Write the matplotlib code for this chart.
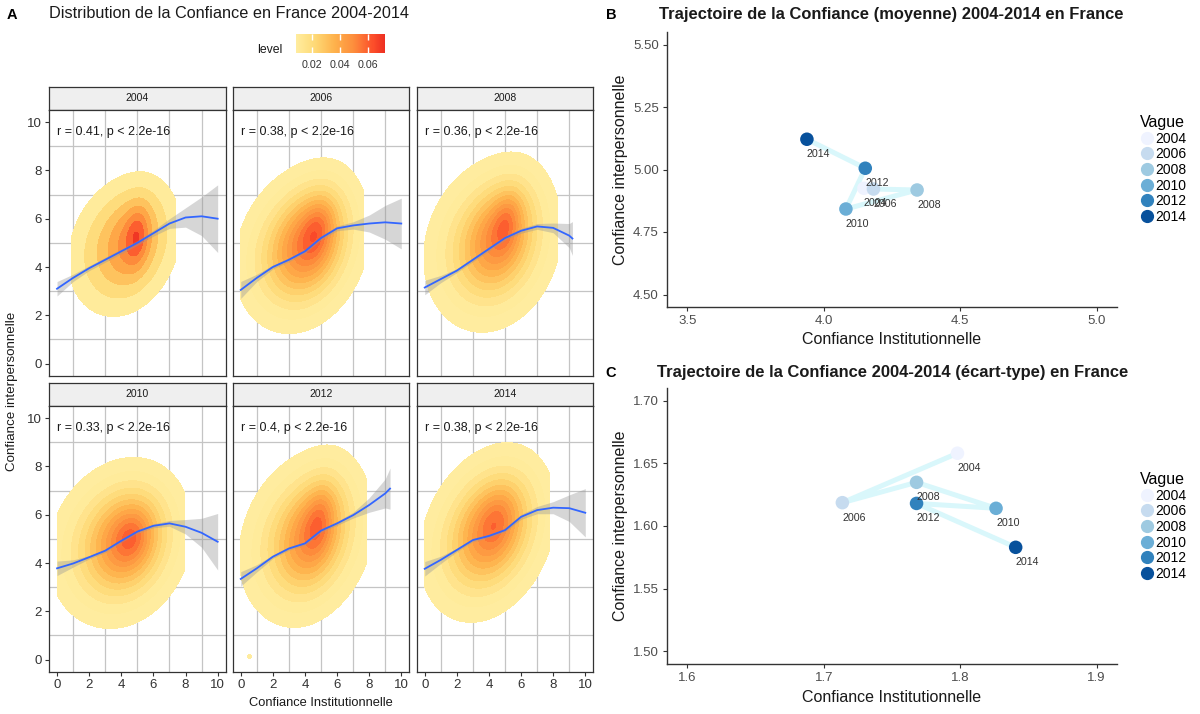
import numpy as np
import matplotlib.pyplot as plt
from matplotlib.colors import LinearSegmentedColormap, Normalize
from matplotlib.cm import ScalarMappable
from matplotlib.lines import Line2D

plt.rcParams['font.family'] = ['Liberation Sans', 'DejaVu Sans']

W, H = 1200, 714

vagues = [2004, 2006, 2008, 2010, 2012, 2014]
vague_colors = ['#EFF3FF', '#C6DBEF', '#9ECAE1', '#6BAED6', '#3182BD', '#08519C']

# --- panel A: correlation text per wave
r_values = ['0.41', '0.38', '0.36', '0.33', '0.4', '0.38']

# density shape per wave:
# (mean_x, mean_y, sd_x, sd_y, rho, weight)
dens_broad = [
    (4.2, 4.9, 2.1, 1.75, 0.22, 0.90),
    (3.8, 4.75, 2.05, 1.7, 0.20, 0.86),
    (4.2, 4.9, 2.15, 1.8, 0.15, 0.86),
    (3.9, 4.8, 2.25, 1.75, 0.15, 0.86),
    (4.1, 5.0, 2.1, 1.8, 0.20, 0.86),
    (3.9, 5.2, 2.1, 1.8, 0.25, 0.86),
]
dens_mid = [
    (4.8, 5.2, 1.0, 1.2, 0.25, 0.12),
    (4.6, 5.4, 1.3, 1.4, 0.30, 0.22),
    (4.9, 5.6, 1.3, 1.4, 0.30, 0.22),
    (4.5, 5.0, 1.4, 1.3, 0.20, 0.22),
    (4.7, 5.5, 1.2, 1.5, 0.35, 0.20),
    (4.4, 5.6, 1.4, 1.4, 0.30, 0.20),
]
dens_core = [
    (5.0, 5.3, 0.45, 0.8, 0.2, 0.04),
    (4.8, 5.6, 0.6, 0.8, 0.3, 0.03),
    (5.1, 5.9, 0.55, 0.8, 0.3, 0.03),
    (4.7, 5.1, 0.7, 0.7, 0.2, 0.03),
    (4.9, 5.8, 0.55, 0.9, 0.3, 0.03),
    (4.5, 5.8, 0.7, 0.8, 0.3, 0.025),
]
dens_extra = [
    (0, 0, 1, 1, 0, 0.0),
    (0, 0, 1, 1, 0, 0.0),
    (0, 0, 1, 1, 0, 0.0),
    (0, 0, 1, 1, 0, 0.0),
    (0.55, 0.12, 0.15, 0.1, 0, 0.0006),
    (0, 0, 1, 1, 0, 0.0),
]
# data extent of each wave (xmin, xmax, ymin, ymax)
dens_box = [
    (0.9, 7.4, 1.0, 7.95),
    (0.0, 7.65, 0.0, 10.0),
    (0.0, 8.3, 0.0, 10.0),
    (0.0, 7.95, 0.0, 10.0),
    (0.0, 7.85, 0.0, 10.0),
    (0.0, 7.8, 0.0, 10.0),
]
dens_step = [0.01, 0.005, 0.005, 0.005, 0.005, 0.005]

# loess curves and their confidence half-widths
smooth_x = [
    [0, 1, 2, 3, 4, 5, 6, 7, 8, 9, 10],
    [0, 1, 2, 3, 4, 5, 6, 7, 8, 9, 10],
    [0, 1, 2, 3, 4, 5, 6, 7, 8, 9, 9.2],
    [0, 1, 2, 3, 4, 5, 6, 7, 8, 9, 10],
    [0, 1, 2, 3, 4, 5, 6, 7, 8, 9, 9.3],
    [0, 1, 2, 3, 4, 5, 6, 7, 8, 9, 10],
]
smooth_y = [
    [3.1, 3.55, 3.95, 4.3, 4.65, 5.0, 5.4, 5.8, 6.05, 6.1, 6.0],
    [3.05, 3.55, 4.0, 4.3, 4.65, 5.2, 5.6, 5.72, 5.8, 5.85, 5.8],
    [3.15, 3.5, 3.85, 4.3, 4.75, 5.2, 5.5, 5.68, 5.62, 5.3, 5.18],
    [3.78, 3.98, 4.24, 4.51, 4.92, 5.3, 5.54, 5.64, 5.5, 5.25, 4.88],
    [3.34, 3.78, 4.26, 4.6, 4.81, 5.34, 5.64, 5.98, 6.4, 6.88, 7.08],
    [3.76, 4.13, 4.54, 4.95, 5.12, 5.36, 5.91, 6.19, 6.29, 6.27, 6.08],
]
smooth_se = [
    [0.3, 0.15, 0.1, 0.1, 0.1, 0.1, 0.12, 0.2, 0.4, 0.8, 1.4],
    [0.35, 0.15, 0.08, 0.08, 0.08, 0.08, 0.1, 0.15, 0.35, 0.7, 1.05],
    [0.3, 0.15, 0.08, 0.08, 0.08, 0.08, 0.1, 0.12, 0.2, 0.5, 0.7],
    [0.3, 0.15, 0.07, 0.07, 0.07, 0.07, 0.08, 0.12, 0.3, 0.6, 1.17],
    [0.3, 0.15, 0.07, 0.07, 0.07, 0.07, 0.08, 0.12, 0.3, 0.6, 0.85],
    [0.3, 0.15, 0.07, 0.07, 0.07, 0.07, 0.1, 0.15, 0.25, 0.55, 1.0],
]

# --- panels B and C
mean_inst = [4.147, 4.182, 4.342, 4.081, 4.152, 3.938]
mean_inter = [4.925, 4.922, 4.918, 4.842, 5.005, 5.121]
sd_inst = [1.798, 1.7136, 1.768, 1.8263, 1.768, 1.8407]
sd_inter = [1.658, 1.6186, 1.6348, 1.6141, 1.618, 1.583]

cmap = LinearSegmentedColormap.from_list(
    'lvl', plt.get_cmap('YlOrRd')(np.linspace(0.13, 0.7, 64)))
norm = Normalize(vmin=0.0086, vmax=0.072)


def px_axes(x0, x1, y0, y1):
    return fig.add_axes([x0 / W, 1 - y1 / H, (x1 - x0) / W, (y1 - y0) / H])


def ftext(x, y, s, **kw):
    fig.text(x / W, 1 - y / H, s, **kw)


def gauss(gx, gy, comp):
    mx, my, sx, sy, rho, w = comp
    dx = (gx - mx) / sx
    dy = (gy - my) / sy
    q = (dx ** 2 - 2 * rho * dx * dy + dy ** 2) / (1 - rho ** 2)
    return w * np.exp(-q / 2) / (2 * np.pi * sx * sy * np.sqrt(1 - rho ** 2))


fig = plt.figure(figsize=(W / 100, H / 100), dpi=100)

cols = [(49, 225.7), (232.7, 409.3), (416.7, 593.3)]
rows = [(86.7, 110, 375.7), (382.7, 406, 671.7)]
tick_col = '#333333'

for k, v in enumerate(vagues):
    r, c = divmod(k, 3)
    x0, x1 = cols[c]
    s0, p0, p1 = rows[r]
    # strip
    sax = px_axes(x0, x1, s0, p0)
    sax.set_facecolor('#EFEFEF')
    sax.set_xticks([])
    sax.set_yticks([])
    for sp in sax.spines.values():
        sp.set_color('#333333')
        sp.set_linewidth(0.9)
    sax.text(0.5, 0.5, str(v), ha='center', va='center', fontsize=7.5,
             color='#1A1A1A', transform=sax.transAxes)

    ax = px_axes(x0, x1, p0, p1)
    ax.set_xlim(-0.5, 10.5)
    ax.set_ylim(-0.5, 10.5)
    ax.set_xticks([0, 2, 4, 6, 8, 10])
    ax.set_yticks([0, 2, 4, 6, 8, 10])
    ax.set_xticks([1, 3, 5, 7, 9], minor=True)
    ax.set_yticks([1, 3, 5, 7, 9], minor=True)
    ax.grid(which='minor', color='#C4C4C4', lw=0.9)
    ax.grid(which='major', visible=False)
    ax.set_axisbelow(True)
    ax.tick_params(which='minor', length=0)
    ax.tick_params(which='major', length=3, width=0.8, color=tick_col,
                   labelsize=9.5, labelcolor=tick_col, pad=2)
    if c != 0:
        ax.tick_params(axis='y', which='major', length=0, labelleft=False)
    if r != 1:
        ax.tick_params(axis='x', which='major', length=0, labelbottom=False)
    for sp in ax.spines.values():
        sp.set_color('#333333')
        sp.set_linewidth(0.9)

    xa, xb, ya, yb = dens_box[k]
    gx, gy = np.meshgrid(np.linspace(xa, xb, 220), np.linspace(ya, yb, 220))
    z = sum(gauss(gx, gy, comp[k]) for comp in (dens_broad, dens_mid, dens_core, dens_extra))
    step = dens_step[k]
    levels = np.arange(step, z.max() + step, step)
    ax.contourf(gx, gy, z, levels=levels, colors=[cmap(norm(l)) for l in levels[:-1]],
                zorder=1)

    sx_ = np.array(smooth_x[k])
    sy_ = np.array(smooth_y[k])
    se_ = np.array(smooth_se[k])
    ax.fill_between(sx_, sy_ - se_, sy_ + se_, color='#999999', alpha=0.4, lw=0, zorder=2)
    ax.plot(sx_, sy_, color='#3366FF', lw=1.3, zorder=3)
    ax.text(0, 9.6, 'r = %s, p < 2.2e-16' % r_values[k], ha='left', va='center',
            fontsize=9, color='#1A1A1A', zorder=4)

# colorbar of panel A
cax = px_axes(296, 385, 34, 53)
cb = fig.colorbar(ScalarMappable(norm=norm, cmap=cmap), cax=cax, orientation='horizontal',
                  ticks=[0.02, 0.04, 0.06])
cb.outline.set_visible(False)
cax.tick_params(axis='x', direction='in', color='white', length=4, width=1,
                top=True, labelsize=7.7, labelcolor='#333333', pad=5)
cax.set_xticklabels(['0.02', '0.04', '0.06'])
ftext(282, 50, 'level', ha='right', va='center', fontsize=8.8, color='#1A1A1A')

ftext(7, 15, 'A', ha='left', va='center', fontsize=10.5, fontweight='bold')
ftext(49, 14, 'Distribution de la Confiance en France 2004-2014', ha='left', va='center',
      fontsize=11.7, color='#1A1A1A')
ftext(321, 703, 'Confiance Institutionnelle', ha='center', va='center', fontsize=9.3,
      color='#1A1A1A')
ftext(12, 391, 'Confiance interpersonnelle', ha='center', va='center', fontsize=9.6,
      rotation=90, color='#1A1A1A')


def trajectory(ax, xs, ys, xlim, ylim, xt, xtl, yt, ytl):
    ax.plot(xs, ys, color='#D9F7FB', lw=3.6, solid_capstyle='round', zorder=1)
    ax.scatter(xs, ys, s=95, c=vague_colors, zorder=2, linewidths=0)
    for x, y, v in zip(xs, ys, vagues):
        ax.annotate(str(v), (x, y), xytext=(0, -15), textcoords='offset pixels',
                    ha='left', va='center', fontsize=7.7, color='#333333', zorder=3)
    ax.set_xlim(*xlim)
    ax.set_ylim(*ylim)
    ax.set_xticks(xt)
    ax.set_xticklabels(xtl)
    ax.set_yticks(yt)
    ax.set_yticklabels(ytl)
    ax.spines['top'].set_visible(False)
    ax.spines['right'].set_visible(False)
    for s in ('left', 'bottom'):
        ax.spines[s].set_color('#333333')
        ax.spines[s].set_linewidth(1.0)
    ax.tick_params(length=3, width=0.8, color='#333333', labelsize=9.5,
                   labelcolor='#4D4D4D', pad=3)


def vague_legend(ax, top):
    handles = [Line2D([], [], ls='none', marker='o', ms=8.5, mfc=col, mec=col)
               for col in vague_colors]
    ax.legend(handles, [str(v) for v in vagues], title='Vague', loc='upper left',
              bbox_to_anchor=(1140 / W, 1 - top / H), bbox_transform=fig.transFigure,
              frameon=False, fontsize=10, title_fontsize=11.5, handletextpad=0.1,
              labelspacing=0.12, handlelength=1.0, borderpad=0, borderaxespad=0,
              alignment='left')


axB = px_axes(667, 1117, 32, 307)
trajectory(axB, mean_inst, mean_inter, (3.425, 5.075), (4.45, 5.55),
           [3.5, 4.0, 4.5, 5.0], ['3.5', '4.0', '4.5', '5.0'],
           [4.5, 4.75, 5.0, 5.25, 5.5], ['4.50', '4.75', '5.00', '5.25', '5.50'])
vague_legend(axB, 115)
ftext(611, 15, 'B', ha='center', va='center', fontsize=10.5, fontweight='bold')
ftext(659, 15, 'Trajectoire de la Confiance (moyenne) 2004-2014 en France', ha='left',
      va='center', fontsize=11.9, fontweight='bold', color='#1A1A1A')
ftext(892, 340, 'Confiance Institutionnelle', ha='center', va='center', fontsize=11.5,
      color='#1A1A1A')
ftext(621, 170, 'Confiance interpersonnelle', ha='center', va='center', fontsize=11.5,
      rotation=90, color='#1A1A1A')

axC = px_axes(667, 1117, 388, 664)
trajectory(axC, sd_inst, sd_inter, (1.585, 1.915), (1.49, 1.71),
           [1.6, 1.7, 1.8, 1.9], ['1.6', '1.7', '1.8', '1.9'],
           [1.5, 1.55, 1.6, 1.65, 1.7], ['1.50', '1.55', '1.60', '1.65', '1.70'])
vague_legend(axC, 472)
ftext(611, 373, 'C', ha='center', va='center', fontsize=10.5, fontweight='bold')
ftext(657, 373, 'Trajectoire de la Confiance 2004-2014 (écart-type) en France', ha='left',
      va='center', fontsize=11.9, fontweight='bold', color='#1A1A1A')
ftext(892, 697, 'Confiance Institutionnelle', ha='center', va='center', fontsize=11.5,
      color='#1A1A1A')
ftext(621, 526, 'Confiance interpersonnelle', ha='center', va='center', fontsize=11.5,
      rotation=90, color='#1A1A1A')

fig.savefig('out.png', dpi=100)
